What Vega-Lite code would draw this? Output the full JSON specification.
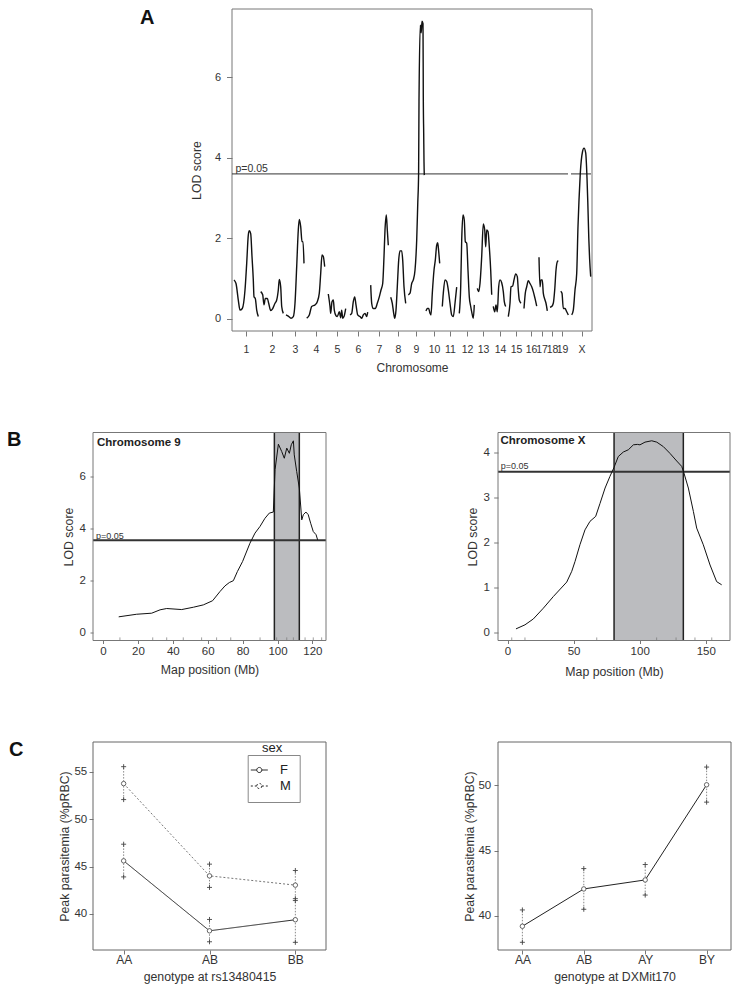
{
"$schema": "https://vega.github.io/schema/vega-lite/v6.json",
"autosize": {"type": "none"},
"padding": {"left": 93, "top": 9, "right": 647, "bottom": 982},
"background": "white",
"config": {
  "font": "Liberation Sans",
  "view": {"stroke": null},
  "axis": {"domain": false, "grid": false, "tickColor": "#555", "tickWidth": 0.8, "labelColor": "#333", "titleColor": "#333", "labelFontSize": 11.5, "titleFontSize": 12.3, "titleFontWeight": "normal", "labelFlush": false, "labelOverlap": false, "tickSize": 4},
  "title": {"font": "Liberation Sans"}
},
"datasets": {
  "lodA": [
    {"chr":"1","pos":2.0,"lod":0.97},{"chr":"1","pos":4.0,"lod":0.88},{"chr":"1","pos":6.3,"lod":0.47},{"chr":"1","pos":8.0,"lod":0.22},{"chr":"1","pos":10.3,"lod":0.26},{"chr":"1","pos":13.0,"lod":0.72},{"chr":"1","pos":14.7,"lod":1.38},{"chr":"1","pos":16.3,"lod":2.08},{"chr":"1","pos":17.3,"lod":2.19},{"chr":"1","pos":18.7,"lod":2.12},{"chr":"1","pos":20.0,"lod":1.55},{"chr":"1","pos":21.3,"lod":0.97},{"chr":"1","pos":22.0,"lod":0.55},{"chr":"1","pos":23.3,"lod":0.51},{"chr":"1","pos":24.7,"lod":0.22},{"chr":"1","pos":26.3,"lod":0.06},
    {"chr":"2","pos":28.7,"lod":0.68},{"chr":"2","pos":30.7,"lod":0.60},{"chr":"2","pos":32.0,"lod":0.35},{"chr":"2","pos":33.3,"lod":0.51},{"chr":"2","pos":35.3,"lod":0.51},{"chr":"2","pos":36.7,"lod":0.39},{"chr":"2","pos":38.7,"lod":0.21},{"chr":"2","pos":40.7,"lod":0.26},{"chr":"2","pos":43.0,"lod":0.39},{"chr":"2","pos":44.7,"lod":0.47},{"chr":"2","pos":46.3,"lod":0.72},{"chr":"2","pos":47.3,"lod":0.98},{"chr":"2","pos":48.7,"lod":0.80},{"chr":"2","pos":49.7,"lod":0.31},{"chr":"2","pos":51.3,"lod":0.14},
    {"chr":"3","pos":54.0,"lod":0.10},{"chr":"3","pos":56.3,"lod":0.07},{"chr":"3","pos":59.0,"lod":0.02},{"chr":"3","pos":61.3,"lod":0.06},{"chr":"3","pos":63.0,"lod":0.39},{"chr":"3","pos":64.7,"lod":1.30},{"chr":"3","pos":66.3,"lod":2.21},{"chr":"3","pos":67.3,"lod":2.47},{"chr":"3","pos":68.7,"lod":2.29},{"chr":"3","pos":70.0,"lod":1.92},{"chr":"3","pos":71.0,"lod":1.92},{"chr":"3","pos":72.0,"lod":1.38},
    {"chr":"4","pos":74.7,"lod":0.02},{"chr":"4","pos":77.3,"lod":0.10},{"chr":"4","pos":79.7,"lod":0.31},{"chr":"4","pos":83.0,"lod":0.35},{"chr":"4","pos":85.3,"lod":0.43},{"chr":"4","pos":87.3,"lod":0.64},{"chr":"4","pos":88.7,"lod":1.13},{"chr":"4","pos":90.0,"lod":1.59},{"chr":"4","pos":91.3,"lod":1.55},{"chr":"4","pos":92.7,"lod":1.30},
    {"chr":"5","pos":96.3,"lod":0.62},{"chr":"5","pos":98.0,"lod":0.31},{"chr":"5","pos":98.7,"lod":0.14},{"chr":"5","pos":100.0,"lod":0.43},{"chr":"5","pos":101.3,"lod":0.47},{"chr":"5","pos":102.3,"lod":0.22},{"chr":"5","pos":104.0,"lod":0.08},{"chr":"5","pos":105.3,"lod":0.06},{"chr":"5","pos":107.3,"lod":0.18},{"chr":"5","pos":108.7,"lod":0.03},{"chr":"5","pos":109.7,"lod":0.22},{"chr":"5","pos":110.7,"lod":0.02},{"chr":"5","pos":112.0,"lod":0.06},{"chr":"5","pos":113.7,"lod":0.26},
    {"chr":"6","pos":118.0,"lod":0.10},{"chr":"6","pos":119.7,"lod":0.14},{"chr":"6","pos":121.3,"lod":0.43},{"chr":"6","pos":122.7,"lod":0.55},{"chr":"6","pos":124.0,"lod":0.35},{"chr":"6","pos":125.7,"lod":0.10},{"chr":"6","pos":128.0,"lod":0.06},{"chr":"6","pos":129.7,"lod":0.02},{"chr":"6","pos":131.3,"lod":0.10},{"chr":"6","pos":133.0,"lod":0.14},{"chr":"6","pos":134.7,"lod":0.06},{"chr":"6","pos":135.7,"lod":0.17},
    {"chr":"7","pos":138.7,"lod":0.84},{"chr":"7","pos":139.7,"lod":0.39},{"chr":"7","pos":141.3,"lod":0.26},{"chr":"7","pos":143.3,"lod":0.26},{"chr":"7","pos":145.3,"lod":0.39},{"chr":"7","pos":147.3,"lod":0.55},{"chr":"7","pos":149.0,"lod":0.72},{"chr":"7","pos":150.7,"lod":0.88},{"chr":"7","pos":152.0,"lod":1.55},{"chr":"7","pos":153.0,"lod":2.21},{"chr":"7","pos":154.3,"lod":2.58},{"chr":"7","pos":155.3,"lod":2.21},{"chr":"7","pos":156.3,"lod":1.83},
    {"chr":"8","pos":158.7,"lod":0.54},{"chr":"8","pos":160.3,"lod":0.39},{"chr":"8","pos":161.7,"lod":0.14},{"chr":"8","pos":162.7,"lod":0.02},{"chr":"8","pos":164.0,"lod":0.22},{"chr":"8","pos":165.3,"lod":0.80},{"chr":"8","pos":166.7,"lod":1.46},{"chr":"8","pos":168.0,"lod":1.69},{"chr":"8","pos":169.7,"lod":1.69},{"chr":"8","pos":170.7,"lod":1.46},{"chr":"8","pos":172.0,"lod":0.80},{"chr":"8","pos":173.7,"lod":0.39},
    {"chr":"9","pos":176.3,"lod":0.60},{"chr":"9","pos":178.0,"lod":0.64},{"chr":"9","pos":179.7,"lod":0.88},{"chr":"9","pos":181.3,"lod":0.97},{"chr":"9","pos":183.0,"lod":1.21},{"chr":"9","pos":184.7,"lod":1.96},{"chr":"9","pos":185.8,"lod":2.9},{"chr":"9","pos":186.6,"lod":3.6},{"chr":"9","pos":187.0,"lod":5.4},{"chr":"9","pos":188.3,"lod":7.29},{"chr":"9","pos":189.2,"lod":7.1},{"chr":"9","pos":190.0,"lod":7.39},{"chr":"9","pos":191.0,"lod":7.33},{"chr":"9","pos":191.3,"lod":5.5},{"chr":"9","pos":191.7,"lod":4.6},{"chr":"9","pos":192.0,"lod":3.9},{"chr":"9","pos":192.3,"lod":3.57},
    {"chr":"10","pos":194.0,"lod":0.20},{"chr":"10","pos":195.3,"lod":0.26},{"chr":"10","pos":196.7,"lod":0.26},{"chr":"10","pos":198.0,"lod":0.14},{"chr":"10","pos":199.0,"lod":0.10},{"chr":"10","pos":200.3,"lod":0.64},{"chr":"10","pos":202.0,"lod":1.21},{"chr":"10","pos":203.3,"lod":1.46},{"chr":"10","pos":204.7,"lod":1.83},{"chr":"10","pos":205.7,"lod":1.89},{"chr":"10","pos":206.7,"lod":1.67},{"chr":"10","pos":207.7,"lod":1.38},
    {"chr":"11","pos":210.3,"lod":0.31},{"chr":"11","pos":211.3,"lod":0.64},{"chr":"11","pos":213.0,"lod":0.97},{"chr":"11","pos":214.7,"lod":0.93},{"chr":"11","pos":216.3,"lod":0.72},{"chr":"11","pos":218.0,"lod":0.39},{"chr":"11","pos":219.7,"lod":0.10},{"chr":"11","pos":221.3,"lod":0.06},{"chr":"11","pos":223.0,"lod":0.39},{"chr":"11","pos":224.7,"lod":0.79},
    {"chr":"12","pos":227.3,"lod":0.14},{"chr":"12","pos":228.7,"lod":0.80},{"chr":"12","pos":229.7,"lod":1.96},{"chr":"12","pos":231.0,"lod":2.58},{"chr":"12","pos":232.3,"lod":2.45},{"chr":"12","pos":233.3,"lod":1.92},{"chr":"12","pos":234.7,"lod":1.88},{"chr":"12","pos":236.0,"lod":1.21},{"chr":"12","pos":237.3,"lod":0.55},{"chr":"12","pos":238.7,"lod":0.31},{"chr":"12","pos":240.0,"lod":0.14},{"chr":"12","pos":241.3,"lod":0.02},{"chr":"12","pos":242.3,"lod":0.35},
    {"chr":"13","pos":245.3,"lod":0.76},{"chr":"13","pos":246.7,"lod":0.68},{"chr":"13","pos":248.0,"lod":0.88},{"chr":"13","pos":249.7,"lod":1.55},{"chr":"13","pos":251.3,"lod":2.36},{"chr":"13","pos":252.7,"lod":2.21},{"chr":"13","pos":253.7,"lod":1.79},{"chr":"13","pos":254.7,"lod":2.21},{"chr":"13","pos":256.0,"lod":2.17},{"chr":"13","pos":257.3,"lod":1.79},{"chr":"13","pos":258.7,"lod":1.21},{"chr":"13","pos":259.7,"lod":0.60},
    {"chr":"14","pos":261.3,"lod":0.31},{"chr":"14","pos":262.7,"lod":0.18},{"chr":"14","pos":264.0,"lod":0.35},{"chr":"14","pos":265.3,"lod":0.18},{"chr":"14","pos":266.7,"lod":0.80},{"chr":"14","pos":268.0,"lod":0.97},{"chr":"14","pos":269.7,"lod":0.90},{"chr":"14","pos":271.3,"lod":0.68},{"chr":"14","pos":272.3,"lod":0.43},{"chr":"14","pos":273.7,"lod":0.31},
    {"chr":"15","pos":276.3,"lod":0.06},{"chr":"15","pos":278.0,"lod":0.39},{"chr":"15","pos":279.0,"lod":0.80},{"chr":"15","pos":280.7,"lod":0.82},{"chr":"15","pos":282.0,"lod":0.97},{"chr":"15","pos":283.7,"lod":1.12},{"chr":"15","pos":285.3,"lod":1.05},{"chr":"15","pos":286.3,"lod":0.72},{"chr":"15","pos":287.3,"lod":0.47},{"chr":"15","pos":289.0,"lod":0.39},
    {"chr":"16","pos":292.0,"lod":0.26},{"chr":"16","pos":293.3,"lod":0.64},{"chr":"16","pos":294.7,"lod":0.80},{"chr":"16","pos":296.3,"lod":0.95},{"chr":"16","pos":298.0,"lod":0.88},{"chr":"16","pos":299.7,"lod":0.80},{"chr":"16","pos":301.3,"lod":0.68},{"chr":"16","pos":303.0,"lod":0.51},{"chr":"16","pos":304.7,"lod":0.32},
    {"chr":"17","pos":307.0,"lod":1.53},{"chr":"17","pos":308.0,"lod":0.80},{"chr":"17","pos":309.0,"lod":0.97},{"chr":"17","pos":310.3,"lod":0.97},{"chr":"17","pos":311.3,"lod":0.64},{"chr":"17","pos":313.0,"lod":0.47},{"chr":"17","pos":314.0,"lod":0.39},{"chr":"17","pos":315.3,"lod":0.20},
    {"chr":"18","pos":318.0,"lod":0.29},{"chr":"18","pos":319.7,"lod":0.31},{"chr":"18","pos":321.3,"lod":0.39},{"chr":"18","pos":322.7,"lod":0.72},{"chr":"18","pos":324.0,"lod":1.21},{"chr":"18","pos":325.3,"lod":1.42},{"chr":"18","pos":326.3,"lod":1.45},
    {"chr":"19","pos":328.7,"lod":0.69},{"chr":"19","pos":330.0,"lod":0.64},{"chr":"19","pos":331.3,"lod":0.26},{"chr":"19","pos":333.0,"lod":0.26},{"chr":"19","pos":334.7,"lod":0.18},{"chr":"19","pos":336.3,"lod":0.10},
    {"chr":"X","pos":339.7,"lod":0.10},{"chr":"X","pos":341.3,"lod":0.22},{"chr":"X","pos":343.0,"lod":0.72},{"chr":"X","pos":344.7,"lod":1.13},{"chr":"X","pos":346.0,"lod":2.3},{"chr":"X","pos":347.0,"lod":2.95},{"chr":"X","pos":348.3,"lod":3.62},{"chr":"X","pos":350.5,"lod":4.15},{"chr":"X","pos":352.0,"lod":4.24},{"chr":"X","pos":353.7,"lod":4.12},{"chr":"X","pos":355.0,"lod":3.5},{"chr":"X","pos":355.8,"lod":2.9},{"chr":"X","pos":356.8,"lod":2.0},{"chr":"X","pos":357.6,"lod":1.5},{"chr":"X","pos":358.7,"lod":1.05}
  ],
  "markersA": [
    {"pos":1},{"pos":3.5},{"pos":6},{"pos":8},{"pos":12},{"pos":14},{"pos":16},{"pos":18},{"pos":20},{"pos":21.5},{"pos":23},{"pos":25},
    {"pos":29},{"pos":31},{"pos":32.5},{"pos":34},{"pos":35.5},{"pos":37},{"pos":38.5},{"pos":40},{"pos":41.5},{"pos":43},{"pos":44.5},{"pos":46},{"pos":47.5},{"pos":49},{"pos":50.5},
    {"pos":54},{"pos":56},{"pos":58.5},{"pos":61},{"pos":63},{"pos":64.5},{"pos":66},{"pos":68},{"pos":70},{"pos":72},
    {"pos":75},{"pos":77},{"pos":79},{"pos":81},{"pos":83},{"pos":85},{"pos":87},{"pos":89},{"pos":91},{"pos":93},
    {"pos":96},{"pos":98},{"pos":100},{"pos":102},{"pos":104},{"pos":106},{"pos":108},{"pos":110},{"pos":112},{"pos":114},
    {"pos":117},{"pos":119},{"pos":121},{"pos":123},{"pos":125},{"pos":127},{"pos":129},{"pos":131},{"pos":133},{"pos":135},
    {"pos":138},{"pos":141},{"pos":144},{"pos":147},{"pos":149},{"pos":151},{"pos":153},{"pos":155},
    {"pos":158},{"pos":160},{"pos":162},{"pos":164},{"pos":166},{"pos":168},{"pos":170},{"pos":172},{"pos":174},
    {"pos":176},{"pos":178},{"pos":180},{"pos":182},{"pos":184},{"pos":186},{"pos":187.5},{"pos":188},{"pos":188.5},{"pos":189},{"pos":189.5},{"pos":190},{"pos":191},
    {"pos":194},{"pos":196},{"pos":198},{"pos":200},{"pos":202},{"pos":204},{"pos":206},{"pos":208},
    {"pos":210},{"pos":212},{"pos":214},{"pos":216},{"pos":218},{"pos":220},{"pos":222},{"pos":224},
    {"pos":227},{"pos":229},{"pos":231},{"pos":233},{"pos":235},{"pos":237},{"pos":239},{"pos":241},{"pos":243},
    {"pos":245},{"pos":247},{"pos":249},{"pos":251},{"pos":253},{"pos":255},{"pos":257},{"pos":259},
    {"pos":262},{"pos":264},{"pos":266},{"pos":268},{"pos":270},{"pos":272},{"pos":274},
    {"pos":276},{"pos":278},{"pos":280},{"pos":282},{"pos":284},{"pos":286},{"pos":288},
    {"pos":292},{"pos":294},{"pos":296},{"pos":298},{"pos":300},{"pos":302},{"pos":304},
    {"pos":307},{"pos":309},{"pos":311},{"pos":313},{"pos":315},
    {"pos":318},{"pos":320},{"pos":322},{"pos":324},{"pos":326},
    {"pos":328.5},{"pos":330.5},{"pos":332.5},{"pos":334.5},{"pos":336.5},
    {"pos":340},{"pos":342},{"pos":344},{"pos":346},{"pos":348},{"pos":350},{"pos":352},{"pos":354},{"pos":356},{"pos":358}
  ],
  "thrA": [{"pos":0,"pos2":336,"lod":3.6},{"pos":339,"pos2":359,"lod":3.6}],
  "labA": [{"pos":3.5,"lod":3.6,"label":"p=0.05"}],
  "frameA": [{"pos":0,"pos2":360,"lod":-0.298,"lod2":7.692}],
  "lod9": [
    {"mb":9.0,"lod":0.59},{"mb":19.3,"lod":0.69},{"mb":27.9,"lod":0.73},{"mb":32.7,"lod":0.86},{"mb":36.5,"lod":0.91},{"mb":45.1,"lod":0.87},{"mb":51.8,"lod":0.96},{"mb":57.5,"lod":1.05},{"mb":62.8,"lod":1.21},{"mb":67.0,"lod":1.56},{"mb":69.9,"lod":1.78},{"mb":72.4,"lod":1.91},{"mb":74.7,"lod":1.98},{"mb":77.0,"lod":2.33},{"mb":80.0,"lod":2.72},{"mb":84.2,"lod":3.42},{"mb":87.1,"lod":3.81},{"mb":90.0,"lod":4.07},{"mb":92.8,"lod":4.38},{"mb":95.3,"lod":4.58},{"mb":97.6,"lod":4.62},{"mb":98.6,"lod":6.25},{"mb":100.5,"lod":7.23},{"mb":102.4,"lod":6.95},{"mb":103.9,"lod":6.69},{"mb":105.3,"lod":7.08},{"mb":106.8,"lod":6.88},{"mb":107.9,"lod":7.21},{"mb":109.1,"lod":7.36},{"mb":109.6,"lod":6.82},{"mb":111.0,"lod":6.18},{"mb":112.5,"lod":5.54},{"mb":113.9,"lod":4.32},{"mb":114.8,"lod":4.52},{"mb":116.3,"lod":4.62},{"mb":117.6,"lod":4.52},{"mb":119.0,"lod":4.19},{"mb":120.5,"lod":3.87},{"mb":122.1,"lod":3.75},{"mb":123.0,"lod":3.55}
  ],
  "shade9": [{"mb":98.2,"mb2":112.5}],
  "thr9": [{"mb":-4.0,"lod":3.54,"label":"p=0.05"}],
  "rug9": [{"mb":9.7},{"mb":28.5},{"mb":36.5},{"mb":46.0},{"mb":56.5},{"mb":65.1},{"mb":73.2},{"mb":90.0},{"mb":99.5},{"mb":105.3},{"mb":109.1},{"mb":115.8},{"mb":120.5},{"mb":125.3}],
  "lodX": [
    {"mb":6.4,"lod":0.08},{"mb":13.2,"lod":0.17},{"mb":19.5,"lod":0.30},{"mb":27.1,"lod":0.54},{"mb":34.7,"lod":0.80},{"mb":44.8,"lod":1.12},{"mb":48.6,"lod":1.36},{"mb":51.1,"lod":1.58},{"mb":54.8,"lod":1.95},{"mb":58.6,"lod":2.28},{"mb":62.4,"lod":2.47},{"mb":66.7,"lod":2.58},{"mb":70.0,"lod":2.87},{"mb":73.8,"lod":3.21},{"mb":77.5,"lod":3.47},{"mb":80.6,"lod":3.67},{"mb":83.8,"lod":3.91},{"mb":87.6,"lod":4.01},{"mb":91.4,"lod":4.06},{"mb":95.2,"lod":4.17},{"mb":98.2,"lod":4.18},{"mb":100.2,"lod":4.17},{"mb":104.0,"lod":4.23},{"mb":109.1,"lod":4.26},{"mb":112.9,"lod":4.23},{"mb":117.9,"lod":4.13},{"mb":122.9,"lod":3.98},{"mb":128.0,"lod":3.81},{"mb":131.8,"lod":3.69},{"mb":133.5,"lod":3.54},{"mb":136.8,"lod":3.21},{"mb":140.6,"lod":2.69},{"mb":143.1,"lod":2.32},{"mb":148.1,"lod":1.95},{"mb":153.2,"lod":1.50},{"mb":158.2,"lod":1.13},{"mb":162.0,"lod":1.06}
  ],
  "shadeX": [{"mb":80.6,"mb2":133.0}],
  "thrX": [{"mb":-5.1,"lod":3.57,"label":"p=0.05"}],
  "rugX": [{"mb":3.2},{"mb":13.2},{"mb":67.5},{"mb":112.8},{"mb":127.5},{"mb":141.8},{"mb":154.5}],
  "peak9": [
    {"geno":"AA","sex":"F","mean":45.6,"lo":43.9,"hi":47.36},
    {"geno":"AA","sex":"M","mean":53.77,"lo":52.08,"hi":55.56},
    {"geno":"AB","sex":"F","mean":38.2,"lo":37.04,"hi":39.4},
    {"geno":"AB","sex":"M","mean":44.01,"lo":42.79,"hi":45.25},
    {"geno":"BB","sex":"F","mean":39.37,"lo":36.98,"hi":41.4},
    {"geno":"BB","sex":"M","mean":43.03,"lo":41.6,"hi":44.58}
  ],
  "peakX": [
    {"geno":"AA","mean":39.21,"lo":37.98,"hi":40.46},
    {"geno":"AB","mean":42.07,"lo":40.51,"hi":43.63},
    {"geno":"AY","mean":42.76,"lo":41.6,"hi":43.94},
    {"geno":"BY","mean":50.05,"lo":48.72,"hi":51.41}
  ],
  "one": [{"k": 0}]
},
"spacing": 101.5,
"bounds": "flush",
"vconcat": [
  {
    "width": 638, "height": 322,
    "title": {"text": "A", "anchor": "start", "frame": "group", "offset": -19.2, "dx": 47, "fontSize": 20, "fontWeight": "bold", "color": "#111"},
    "encoding": {
      "x": {"field": "pos", "type": "quantitative", "scale": {"domain": [0, 360], "range": [139, 499], "nice": false, "zero": false},
            "axis": {"title": "Chromosome", "values": [14,40,63,84,105,126,147,166,184,202,218,235,251,268,284,299,309.5,320,330,349.5],
                     "labelExpr": "['1','2','3','4','5','6','7','8','9','10','11','12','13','14','15','16','17','18','19','X'][indexof([14,40,63,84,105,126,147,166,184,202,218,235,251,268,284,299,309.5,320,330,349.5], datum.value)]",
                     "tickSize": 5, "labelPadding": 8.5, "titlePadding": 7, "labelFontSize": 10.5, "titleFontSize": 12, "labelOverlap": false}},
      "y": {"field": "lod", "type": "quantitative", "scale": {"domain": [-0.298, 7.692], "nice": false, "zero": false},
            "axis": {"title": "LOD score", "values": [0,2,4,6], "offset": -139, "tickSize": 5.5, "labelPadding": 6, "titlePadding": 11, "labelFontSize": 11, "labelOverlap": false}}
    },
    "layer": [
      {"data": {"name": "frameA"}, "mark": {"type": "rect", "fill": "transparent", "stroke": "#777", "strokeWidth": 1},
       "encoding": {"x2": {"field": "pos2"}, "y2": {"field": "lod2"}}},
      {"data": {"name": "markersA"}, "mark": {"type": "rule", "color": "#777", "strokeWidth": 0.7}, "encoding": {"y": {"datum": -0.298}, "y2": {"datum": -0.15}}},
      {"data": {"name": "thrA"}, "mark": {"type": "rule", "color": "#333", "strokeWidth": 1}, "encoding": {"x2": {"field": "pos2"}}},
      {"data": {"name": "labA"}, "mark": {"type": "text", "align": "left", "baseline": "alphabetic", "dy": -1.5, "fontSize": 10.5, "color": "#333"}, "encoding": {"text": {"field": "label"}}},
      {"data": {"name": "lodA"}, "mark": {"type": "line", "color": "#111", "strokeWidth": 1.4, "interpolate": "monotone"}, "encoding": {"detail": {"field": "chr"}}}
    ]
  },
  {
    "width": 638, "height": 208,
    "title": {"text": "B", "anchor": "start", "frame": "group", "offset": -18.4, "dx": -86, "fontSize": 20, "fontWeight": "bold", "color": "#111"},
    "resolve": {"scale": {"x": "independent", "y": "independent"}},
    "layer": [
      {"data": {"name": "shade9"}, "mark": {"type": "rect", "color": "#bbbcbf"},
       "encoding": {"x": {"field": "mb", "type": "quantitative", "scale": {"domain": [-5.73, 127.79], "range": [0, 233], "nice": false, "zero": false}, "axis": null}, "x2": {"field": "mb2"}}},
      {"data": {"name": "shade9"}, "mark": {"type": "rule", "color": "#222", "strokeWidth": 1.5},
       "encoding": {"x": {"field": "mb", "type": "quantitative", "scale": {"domain": [-5.73, 127.79], "range": [0, 233], "nice": false, "zero": false}, "axis": null}}},
      {"data": {"name": "shade9"}, "mark": {"type": "rule", "color": "#222", "strokeWidth": 1.5},
       "encoding": {"x": {"field": "mb2", "type": "quantitative", "scale": {"domain": [-5.73, 127.79], "range": [0, 233], "nice": false, "zero": false}, "axis": null}}},
      {"data": {"name": "thr9"}, "mark": {"type": "rule", "color": "#333", "strokeWidth": 2},
       "encoding": {"x": {"datum": -5.73, "type": "quantitative", "scale": {"domain": [-5.73, 127.79], "range": [0, 233], "nice": false, "zero": false}, "axis": null}, "x2": {"datum": 127.79},
                    "y": {"field": "lod", "type": "quantitative", "scale": {"domain": [-0.32, 7.68], "nice": false, "zero": false}, "axis": null}}},
      {"data": {"name": "thr9"}, "mark": {"type": "text", "align": "left", "baseline": "alphabetic", "dy": -1.5, "fontSize": 9, "color": "#333"},
       "encoding": {"x": {"field": "mb", "type": "quantitative", "scale": {"domain": [-5.73, 127.79], "range": [0, 233], "nice": false, "zero": false}, "axis": null},
                    "y": {"field": "lod", "type": "quantitative", "scale": {"domain": [-0.32, 7.68], "nice": false, "zero": false}, "axis": null},
                    "text": {"field": "label"}}},
      {"data": {"name": "rug9"}, "mark": {"type": "rule", "color": "#777", "strokeWidth": 0.7},
       "encoding": {"x": {"field": "mb", "type": "quantitative", "scale": {"domain": [-5.73, 127.79], "range": [0, 233], "nice": false, "zero": false}, "axis": null},
                    "y": {"datum": -0.32, "type": "quantitative", "scale": {"domain": [-0.32, 7.68], "nice": false, "zero": false}, "axis": null}, "y2": {"datum": -0.2}}},
      {"data": {"name": "one"}, "mark": {"type": "text", "align": "left", "baseline": "alphabetic", "dx": 4, "dy": 13, "fontSize": 11.5, "fontWeight": "bold", "color": "#222"},
       "encoding": {"x": {"datum": -5.73, "type": "quantitative", "scale": {"domain": [-5.73, 127.79], "range": [0, 233], "nice": false, "zero": false}, "axis": null},
                    "y": {"datum": 7.68, "type": "quantitative", "scale": {"domain": [-0.32, 7.68], "nice": false, "zero": false}, "axis": null},
                    "text": {"value": "Chromosome 9"}}},
      {"data": {"name": "one"}, "mark": {"type": "rect", "fill": "transparent", "stroke": "#777", "strokeWidth": 1},
       "encoding": {"x": {"datum": -5.73, "type": "quantitative", "scale": {"domain": [-5.73, 127.79], "range": [0, 233], "nice": false, "zero": false}, "axis": null}, "x2": {"datum": 127.79},
                    "y": {"datum": -0.32, "type": "quantitative", "scale": {"domain": [-0.32, 7.68], "nice": false, "zero": false}, "axis": null}, "y2": {"datum": 7.68}}},
      {"data": {"name": "lod9"}, "mark": {"type": "line", "color": "#111", "strokeWidth": 1},
       "encoding": {"x": {"field": "mb", "type": "quantitative", "scale": {"domain": [-5.73, 127.79], "range": [0, 233], "nice": false, "zero": false},
                          "axis": {"title": "Map position (Mb)", "orient": "bottom", "values": [0,20,40,60,80,100,120], "tickSize": 3, "labelPadding": 2, "titlePadding": 6.8, "labelOverlap": false}},
                    "y": {"field": "lod", "type": "quantitative", "scale": {"domain": [-0.32, 7.68], "nice": false, "zero": false},
                          "axis": {"title": "LOD score", "orient": "left", "values": [0,2,4,6], "tickSize": 3, "labelPadding": 4.5, "titlePadding": 4, "labelOverlap": false}}}},

      {"data": {"name": "shadeX"}, "mark": {"type": "rect", "color": "#bbbcbf"},
       "encoding": {"x": {"field": "mb", "type": "quantitative", "scale": {"domain": [-7.19, 168.3], "range": [405, 637], "nice": false, "zero": false}, "axis": null}, "x2": {"field": "mb2"}}},
      {"data": {"name": "shadeX"}, "mark": {"type": "rule", "color": "#222", "strokeWidth": 1.5},
       "encoding": {"x": {"field": "mb", "type": "quantitative", "scale": {"domain": [-7.19, 168.3], "range": [405, 637], "nice": false, "zero": false}, "axis": null}}},
      {"data": {"name": "shadeX"}, "mark": {"type": "rule", "color": "#222", "strokeWidth": 1.5},
       "encoding": {"x": {"field": "mb2", "type": "quantitative", "scale": {"domain": [-7.19, 168.3], "range": [405, 637], "nice": false, "zero": false}, "axis": null}}},
      {"data": {"name": "thrX"}, "mark": {"type": "rule", "color": "#333", "strokeWidth": 2},
       "encoding": {"x": {"datum": -7.19, "type": "quantitative", "scale": {"domain": [-7.19, 168.3], "range": [405, 637], "nice": false, "zero": false}, "axis": null}, "x2": {"datum": 168.3},
                    "y": {"field": "lod", "type": "quantitative", "scale": {"domain": [-0.178, 4.444], "nice": false, "zero": false}, "axis": null}}},
      {"data": {"name": "thrX"}, "mark": {"type": "text", "align": "left", "baseline": "alphabetic", "dy": -3, "fontSize": 9, "color": "#333"},
       "encoding": {"x": {"field": "mb", "type": "quantitative", "scale": {"domain": [-7.19, 168.3], "range": [405, 637], "nice": false, "zero": false}, "axis": null},
                    "y": {"field": "lod", "type": "quantitative", "scale": {"domain": [-0.178, 4.444], "nice": false, "zero": false}, "axis": null},
                    "text": {"field": "label"}}},
      {"data": {"name": "rugX"}, "mark": {"type": "rule", "color": "#777", "strokeWidth": 0.7},
       "encoding": {"x": {"field": "mb", "type": "quantitative", "scale": {"domain": [-7.19, 168.3], "range": [405, 637], "nice": false, "zero": false}, "axis": null},
                    "y": {"datum": -0.178, "type": "quantitative", "scale": {"domain": [-0.178, 4.444], "nice": false, "zero": false}, "axis": null}, "y2": {"datum": -0.11}}},
      {"data": {"name": "one"}, "mark": {"type": "text", "align": "left", "baseline": "alphabetic", "dx": 2.5, "dy": 11.5, "fontSize": 11.5, "fontWeight": "bold", "color": "#222"},
       "encoding": {"x": {"datum": -7.19, "type": "quantitative", "scale": {"domain": [-7.19, 168.3], "range": [405, 637], "nice": false, "zero": false}, "axis": null},
                    "y": {"datum": 4.444, "type": "quantitative", "scale": {"domain": [-0.178, 4.444], "nice": false, "zero": false}, "axis": null},
                    "text": {"value": "Chromosome X"}}},
      {"data": {"name": "one"}, "mark": {"type": "rect", "fill": "transparent", "stroke": "#777", "strokeWidth": 1},
       "encoding": {"x": {"datum": -7.19, "type": "quantitative", "scale": {"domain": [-7.19, 168.3], "range": [405, 637], "nice": false, "zero": false}, "axis": null}, "x2": {"datum": 168.3},
                    "y": {"datum": -0.178, "type": "quantitative", "scale": {"domain": [-0.178, 4.444], "nice": false, "zero": false}, "axis": null}, "y2": {"datum": 4.444}}},
      {"data": {"name": "lodX"}, "mark": {"type": "line", "color": "#111", "strokeWidth": 1},
       "encoding": {"x": {"field": "mb", "type": "quantitative", "scale": {"domain": [-7.19, 168.3], "range": [405, 637], "nice": false, "zero": false},
                          "axis": {"title": "Map position (Mb)", "orient": "bottom", "values": [0,50,100,150], "tickSize": 3, "labelPadding": 2, "titlePadding": 8.3, "labelOverlap": false}},
                    "y": {"field": "lod", "type": "quantitative", "scale": {"domain": [-0.178, 4.444], "nice": false, "zero": false},
                          "axis": {"title": "LOD score", "orient": "left", "offset": -405, "values": [0,1,2,3,4], "tickSize": 4.3, "labelPadding": 4.4, "titlePadding": 3.2, "labelOverlap": false}}}}
    ]
  },
  {
    "width": 638, "height": 208,
    "title": {"text": "C", "anchor": "start", "frame": "group", "offset": -18.9, "dx": -84, "fontSize": 20, "fontWeight": "bold", "color": "#111"},
    "resolve": {"scale": {"x": "independent", "y": "independent"}},
    "layer": [
      {"data": {"name": "peak9"}, "mark": {"type": "rule", "color": "#888", "strokeDash": [1.5, 1.5], "strokeWidth": 1},
       "encoding": {"x": {"field": "geno", "type": "ordinal", "scale": {"type": "point", "domain": ["AA","AB","BB"], "range": [0, 233], "padding": 0.357}, "axis": null},
                    "detail": {"field": "sex"},
                    "y": {"field": "lo", "type": "quantitative", "scale": {"domain": [36.17, 58.17], "nice": false, "zero": false}, "axis": null}, "y2": {"field": "hi"}}},
      {"data": {"name": "peak9"}, "mark": {"type": "line", "strokeWidth": 1},
       "encoding": {"x": {"field": "geno", "type": "ordinal", "scale": {"type": "point", "domain": ["AA","AB","BB"], "range": [0, 233], "padding": 0.357},
                          "axis": {"title": "genotype at rs13480415", "orient": "bottom", "labelAngle": 0, "tickSize": 4, "labelPadding": 0.5, "titlePadding": 4.5, "labelFontSize": 12}},
                    "y": {"field": "mean", "type": "quantitative", "scale": {"domain": [36.17, 58.17], "nice": false, "zero": false},
                          "axis": {"title": "Peak parasitemia (%pRBC)", "orient": "left", "values": [40,45,50,55], "tickSize": 4, "labelPadding": 2.3, "titlePadding": 2, "labelOverlap": false}},
                    "color": {"condition": {"test": "datum.sex === 'M'", "value": "#777"}, "value": "#222"},
                    "strokeDash": {"field": "sex", "type": "nominal", "scale": {"domain": ["F","M"], "range": [[1,0],[2,2]]},
                                   "legend": {"title": null, "orient": "none", "legendX": 154.7, "legendY": 746,
                                              "symbolType": "M-2.1,0L-1.05,0M-0.15,0L0.9,0M-0.15,0A0.45,0.45,0,1,1,-1.05,0A0.45,0.45,0,1,1,-0.15,0",
                                              "symbolSize": 128, "symbolStrokeWidth": 1, "symbolStrokeColor": "#222", "symbolFillColor": "transparent",
                                              "labelFontSize": 13, "labelOffset": 10.8, "labelColor": "#222", "labelFont": "Liberation Sans",
                                              "padding": 8.5, "rowPadding": 2, "strokeColor": "#888"}}}},
      {"data": {"name": "peak9"}, "mark": {"type": "point", "shape": "circle", "size": 20, "fill": "white", "stroke": "#555", "strokeWidth": 0.9, "opacity": 1},
       "encoding": {"x": {"field": "geno", "type": "ordinal", "scale": {"type": "point", "domain": ["AA","AB","BB"], "range": [0, 233], "padding": 0.357}, "axis": null},
                    "y": {"field": "mean", "type": "quantitative", "scale": {"domain": [36.17, 58.17], "nice": false, "zero": false}, "axis": null}}},
      {"data": {"name": "peak9"}, "mark": {"type": "point", "shape": "M-1,0L1,0M0,-1L0,1", "size": 25, "stroke": "#444", "strokeWidth": 0.9, "filled": false, "opacity": 1},
       "encoding": {"x": {"field": "geno", "type": "ordinal", "scale": {"type": "point", "domain": ["AA","AB","BB"], "range": [0, 233], "padding": 0.357}, "axis": null},
                    "y": {"field": "lo", "type": "quantitative", "scale": {"domain": [36.17, 58.17], "nice": false, "zero": false}, "axis": null}}},
      {"data": {"name": "peak9"}, "mark": {"type": "point", "shape": "M-1,0L1,0M0,-1L0,1", "size": 25, "stroke": "#444", "strokeWidth": 0.9, "filled": false, "opacity": 1},
       "encoding": {"x": {"field": "geno", "type": "ordinal", "scale": {"type": "point", "domain": ["AA","AB","BB"], "range": [0, 233], "padding": 0.357}, "axis": null},
                    "y": {"field": "hi", "type": "quantitative", "scale": {"domain": [36.17, 58.17], "nice": false, "zero": false}, "axis": null}}},
      {"data": {"name": "one"}, "mark": {"type": "text", "align": "center", "baseline": "alphabetic", "dx": -23.3, "dy": 9.7, "fontSize": 13, "color": "#222"},
       "encoding": {"x": {"datum": "BB", "type": "ordinal", "scale": {"type": "point", "domain": ["AA","AB","BB"], "range": [0, 233], "padding": 0.357}, "axis": null},
                    "y": {"datum": 58.17, "type": "quantitative", "scale": {"domain": [36.17, 58.17], "nice": false, "zero": false}, "axis": null},
                    "text": {"value": "sex"}}},
      {"data": {"name": "one"}, "mark": {"type": "rect", "fill": "transparent", "stroke": "#666", "strokeWidth": 1},
       "encoding": {"x": {"datum": 0, "type": "quantitative", "scale": {"domain": [0, 1], "range": [0, 233], "nice": false, "zero": false}, "axis": null}, "x2": {"datum": 1},
                    "y": {"datum": 36.17, "type": "quantitative", "scale": {"domain": [36.17, 58.17], "nice": false, "zero": false}, "axis": null}, "y2": {"datum": 58.17}}},

      {"data": {"name": "peakX"}, "mark": {"type": "rule", "color": "#888", "strokeDash": [1.5, 1.5], "strokeWidth": 1},
       "encoding": {"x": {"field": "geno", "type": "ordinal", "scale": {"type": "point", "domain": ["AA","AB","AY","BY"], "range": [405, 638], "padding": 0.397}, "axis": null},
                    "y": {"field": "lo", "type": "quantitative", "scale": {"domain": [37.39, 53.33], "nice": false, "zero": false}, "axis": null}, "y2": {"field": "hi"}}},
      {"data": {"name": "peakX"}, "mark": {"type": "line", "strokeWidth": 1, "color": "#222"},
       "encoding": {"x": {"field": "geno", "type": "ordinal", "scale": {"type": "point", "domain": ["AA","AB","AY","BY"], "range": [405, 638], "padding": 0.397},
                          "axis": {"title": "genotype at DXMit170", "orient": "bottom", "labelAngle": 0, "tickSize": 4, "labelPadding": 0.5, "titlePadding": 4.5, "labelFontSize": 12}},
                    "y": {"field": "mean", "type": "quantitative", "scale": {"domain": [37.39, 53.33], "nice": false, "zero": false},
                          "axis": {"title": "Peak parasitemia (%pRBC)", "orient": "left", "offset": -405, "values": [40,45,50], "tickSize": 4, "labelPadding": 3.3, "titlePadding": 1, "labelOverlap": false}}}},
      {"data": {"name": "peakX"}, "mark": {"type": "point", "shape": "circle", "size": 20, "fill": "white", "stroke": "#555", "strokeWidth": 0.9, "opacity": 1},
       "encoding": {"x": {"field": "geno", "type": "ordinal", "scale": {"type": "point", "domain": ["AA","AB","AY","BY"], "range": [405, 638], "padding": 0.397}, "axis": null},
                    "y": {"field": "mean", "type": "quantitative", "scale": {"domain": [37.39, 53.33], "nice": false, "zero": false}, "axis": null}}},
      {"data": {"name": "peakX"}, "mark": {"type": "point", "shape": "M-1,0L1,0M0,-1L0,1", "size": 25, "stroke": "#444", "strokeWidth": 0.9, "filled": false, "opacity": 1},
       "encoding": {"x": {"field": "geno", "type": "ordinal", "scale": {"type": "point", "domain": ["AA","AB","AY","BY"], "range": [405, 638], "padding": 0.397}, "axis": null},
                    "y": {"field": "lo", "type": "quantitative", "scale": {"domain": [37.39, 53.33], "nice": false, "zero": false}, "axis": null}}},
      {"data": {"name": "peakX"}, "mark": {"type": "point", "shape": "M-1,0L1,0M0,-1L0,1", "size": 25, "stroke": "#444", "strokeWidth": 0.9, "filled": false, "opacity": 1},
       "encoding": {"x": {"field": "geno", "type": "ordinal", "scale": {"type": "point", "domain": ["AA","AB","AY","BY"], "range": [405, 638], "padding": 0.397}, "axis": null},
                    "y": {"field": "hi", "type": "quantitative", "scale": {"domain": [37.39, 53.33], "nice": false, "zero": false}, "axis": null}}},
      {"data": {"name": "one"}, "mark": {"type": "rect", "fill": "transparent", "stroke": "#666", "strokeWidth": 1},
       "encoding": {"x": {"datum": 0, "type": "quantitative", "scale": {"domain": [0, 1], "range": [405, 638], "nice": false, "zero": false}, "axis": null}, "x2": {"datum": 1},
                    "y": {"datum": 37.39, "type": "quantitative", "scale": {"domain": [37.39, 53.33], "nice": false, "zero": false}, "axis": null}, "y2": {"datum": 53.33}}}
    ]
  }
]
}
